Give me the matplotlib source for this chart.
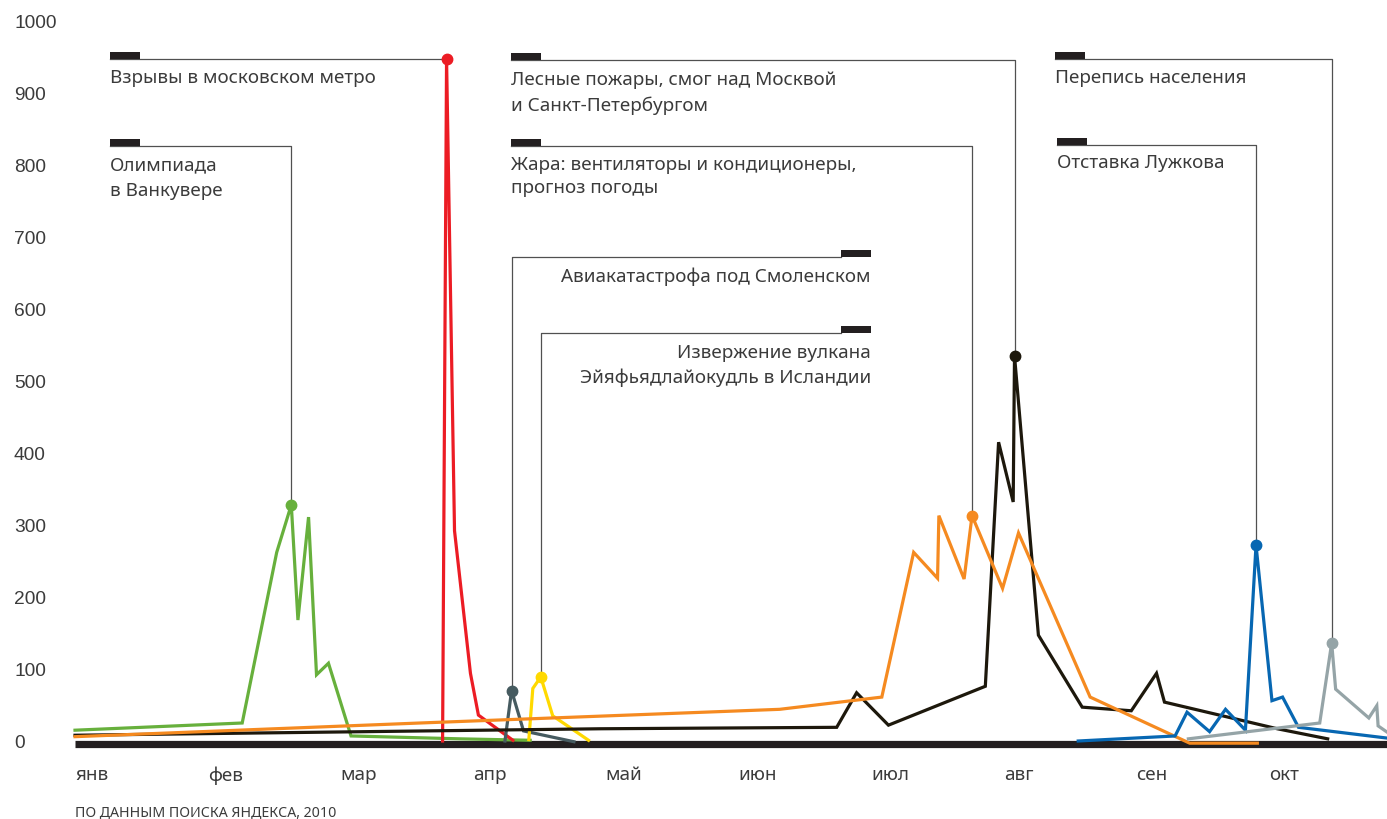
import matplotlib
matplotlib.use('Agg')
import matplotlib.pyplot as plt
from matplotlib.patches import Rectangle

# x is measured in months from 1 January 2010, y is the search index
months = ['янв', 'фев', 'мар', 'апр', 'май', 'июн', 'июл', 'авг', 'сен', 'окт']
y_ticks = [0, 100, 200, 300, 400, 500, 600, 700, 800, 900, 1000]

olymp_x = [0.00, 1.26, 1.52, 1.63, 1.68, 1.76, 1.82, 1.91, 2.08, 2.90, 3.43]
olymp_y = [15, 25, 262, 328, 168, 311, 92, 108, 7, 3, 1]

metro_x = [2.77, 2.80, 2.86, 2.98, 3.04, 3.30]
metro_y = [0, 947, 292, 94, 36, 1]

smolensk_x = [3.24, 3.29, 3.38, 3.76]
smolensk_y = [0, 70, 14, -1]

volcano_x = [3.42, 3.45, 3.51, 3.60, 3.87]
volcano_y = [2, 73, 89, 35, 1]

fires_x = [0.00, 3.96, 5.74, 5.89, 6.13, 6.86, 6.96, 7.07, 7.08, 7.26,
           7.59, 7.96, 8.15, 8.21, 9.06, 9.44]
fires_y = [8, 17, 19, 67, 22, 76, 415, 332, 535, 147,
           47, 42, 94, 54, 17, 3]

heat_x = [0.00, 2.60, 5.31, 6.08, 6.32, 6.50, 6.51, 6.70, 6.76, 6.99,
          7.11, 7.65, 8.40, 8.91]
heat_y = [6, 25, 44, 61, 262, 226, 313, 225, 313, 212,
          289, 61, -3, -3]

luzhkov_x = [7.56, 8.29, 8.38, 8.55, 8.67, 8.82, 8.90, 9.02, 9.10, 9.22, 9.89]
luzhkov_y = [0, 7, 40, 13, 44, 15, 272, 56, 61, 19, 4]

census_x = [8.39, 9.38, 9.47, 9.50, 9.75, 9.81, 9.82, 9.89]
census_y = [3, 25, 136, 72, 32, 49, 21, 12]

# name: (x, y, colour, index of the marked point)
series = {
    'olymp': (olymp_x, olymp_y, '#67b03c', 3),
    'metro': (metro_x, metro_y, '#ec1c24', 1),
    'smolensk': (smolensk_x, smolensk_y, '#465b60', 1),
    'volcano': (volcano_x, volcano_y, '#ffd900', 2),
    'fires': (fires_x, fires_y, '#1d180c', 8),
    'heat': (heat_x, heat_y, '#f58a20', 8),
    'luzhkov': (luzhkov_x, luzhkov_y, '#0767b2', 6),
    'census': (census_x, census_y, '#95a4a7', 2),
}

# pixel layout of the picture, used to place the call-out labels
X0, MONTH_PX = 75, 132.7
Y0, UNIT_PX = 742, 0.72


def dx(px):
    return (px - X0) / MONTH_PX


def dy(py):
    return (Y0 - py) / UNIT_PX


# series, side, anchor x (px), connector y (px), text baselines (px), lines
callouts = [
    ('metro', 'left', 110, 60, [83], ['Взрывы в московском метро']),
    ('olymp', 'left', 110, 147, [170, 196], ['Олимпиада', 'в Ванкувере']),
    ('fires', 'left', 511, 61, [85, 111],
     ['Лесные пожары, смог над Москвой', 'и Санкт-Петербургом']),
    ('heat', 'left', 511, 147, [170, 193],
     ['Жара: вентиляторы и кондиционеры,', 'прогноз погоды']),
    ('smolensk', 'right', 871, 258, [282], ['Авиакатастрофа под Смоленском']),
    ('volcano', 'right', 871, 334, [358, 383],
     ['Извержение вулкана', 'Эйяфьядлайокудль в Исландии']),
    ('census', 'left', 1055, 60, [83], ['Перепись населения']),
    ('luzhkov', 'left', 1057, 146, [168], ['Отставка Лужкова']),
]

TEXT = '#3b3b3b'
DARK = '#231f20'
FONT = 'Noto Sans'

fig = plt.figure(figsize=(13.87, 8.2), dpi=100)
ax = fig.add_axes([75 / 1387, 60 / 820, 1312 / 1387, 750 / 820])
ax.set_xlim(0, dx(1387))
ax.set_ylim(dy(760), dy(10))

for s in ax.spines.values():
    s.set_visible(False)

# thick base line
ax.axhline(-3.5, color=DARK, lw=5.2, zorder=1, solid_capstyle='butt')

order = ['olymp', 'metro', 'smolensk', 'volcano', 'fires', 'heat',
         'luzhkov', 'census']
for z, name in enumerate(order):
    xs, ys, col, peak = series[name]
    ax.plot(xs, ys, color=col, lw=2.3, zorder=3 + z, clip_on=False,
            solid_joinstyle='miter')
    ax.plot(xs[peak], ys[peak], 'o', color=col, ms=7.5, zorder=3 + z,
            clip_on=False)

for name, side, px, ly, bases, lines in callouts:
    xs, ys, col, peak = series[name]
    mx, my = xs[peak], ys[peak]
    bar_w = dx(px + 30) - dx(px)
    bar_h = 7.5 / UNIT_PX
    if side == 'left':
        bar_x = dx(px)
        ax.plot([dx(px), mx, mx], [dy(ly), dy(ly), my], color='#505050',
                lw=0.9, zorder=2)
        ha = 'left'
    else:
        bar_x = dx(px - 30)
        ax.plot([bar_x, mx, mx], [dy(ly), dy(ly), my], color='#505050',
                lw=0.9, zorder=2)
        ha = 'right'
    ax.add_patch(Rectangle((bar_x, dy(ly)), bar_w, bar_h, color=DARK,
                           lw=0, zorder=2))
    for b, t in zip(bases, lines):
        ax.text(dx(px), dy(b), t, ha=ha, va='baseline', color=TEXT,
                fontsize=13.6, family=FONT)

ax.set_yticks(y_ticks)
ax.set_yticklabels([str(v) for v in y_ticks], family='Liberation Sans',
                   fontsize=13.8, color=TEXT)
for lab in ax.get_yticklabels():
    lab.set_horizontalalignment('left')
ax.tick_params(axis='y', length=0, pad=(75 - 14) * 0.72)

ax.set_xticks(range(len(months)))
ax.set_xticklabels(months, family=FONT, fontsize=13.6, color=TEXT)
for lab in ax.get_xticklabels():
    lab.set_horizontalalignment('left')
ax.tick_params(axis='x', length=0, pad=4.5)

fig.text(75 / 1387, 1 - 814 / 820, 'ПО ДАННЫМ ПОИСКА ЯНДЕКСА, 2010',
         family=FONT, fontsize=10.2, color=TEXT, va='center', ha='left')

fig.savefig('out.png', dpi=100)
